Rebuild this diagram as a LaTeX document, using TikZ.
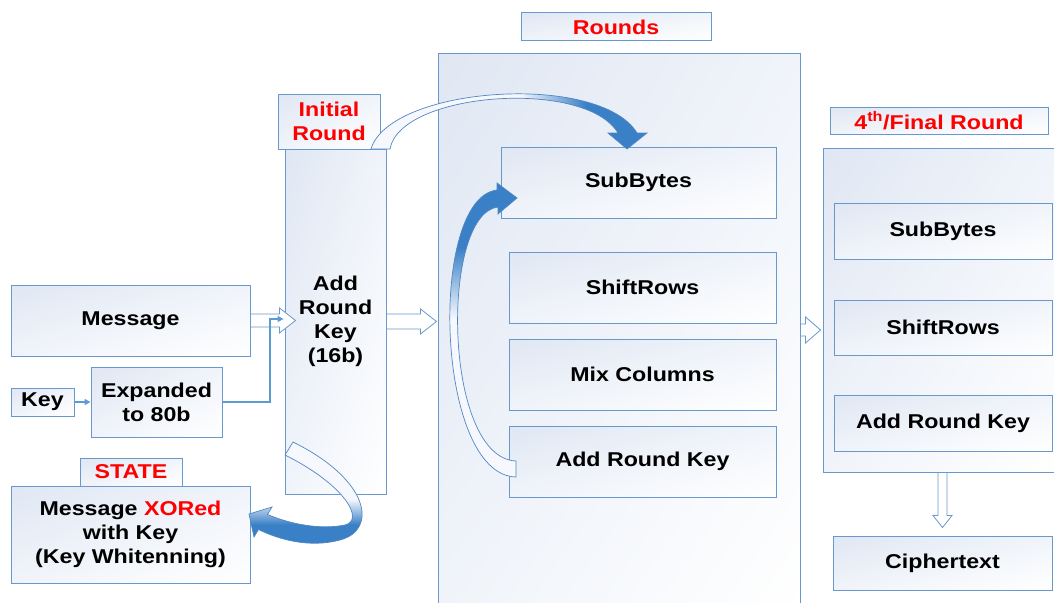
\documentclass[tikz,border=0pt]{standalone}
\usepackage{fontspec}
\setmainfont{Liberation Sans}[FakeStretch=1.16]
\usetikzlibrary{calc,arrows.meta,shadings}
\definecolor{boxborder}{RGB}{105,152,204}
\definecolor{boxtl}{RGB}{224,231,243}
\definecolor{boxmid}{RGB}{240,244,250}
\definecolor{arrlight}{RGB}{246,248,253}
\definecolor{arrblue}{RGB}{58,128,198}
\definecolor{arroutline}{RGB}{80,135,195}
\definecolor{connblue}{RGB}{91,155,213}
\definecolor{txtred}{RGB}{255,0,0}
\pgfdeclareverticalshading{curvshade}{100bp}{color(0bp)=(arrlight); color(52bp)=(arrlight); color(64bp)=(arrblue); color(100bp)=(arrblue)}
\begin{document}
\begin{tikzpicture}[x=1pt,y=-1pt,
  box/.style={draw=boxborder, line width=1pt, upper left=boxtl, upper right=boxmid, lower left=boxmid, lower right=white, align=center, inner sep=0pt, font=\bfseries\fontsize{20}{24}\selectfont},
  lbl/.style={box, text=txtred},
  blockarrow/.style={draw=boxborder, line width=0.8pt, fill=white},
  curved/.style={draw=arroutline, line width=0.7pt, shading=curvshade},
  conn/.style={draw=connblue, line width=1.2pt},
  smalltip/.style={-{Triangle[length=6pt,width=6pt]}}
]
\fill[white] (0,0) rectangle (1054,602);
\useasboundingbox (0,0) rectangle (1054,602);

% containers and labels
\node[lbl, minimum width=190pt, minimum height=28pt] (roundsLbl) at (616,27) {Rounds};
\node[box, minimum width=362pt, minimum height=558pt] (roundsBox) at (619,333) {};
\node[lbl, minimum width=218pt, minimum height=27pt] (finalLbl) at (939,120.5) {4\textsuperscript{th}/Final Round};
\node[box, minimum width=237pt, minimum height=324pt] (finalBox) at (941.5,310) {};
\node[lbl, minimum width=102pt, minimum height=55pt] (initLbl) at (329,121.5) {Initial\\Round};
\node[box, minimum width=101pt, minimum height=345pt] (arkCol) at (335.5,321.5) {Add\\Round\\Key\\(16b)};

% left side
\node[box, minimum width=239pt, minimum height=71pt] (msg) at (130.5,320.5) {Message};
\node[box, minimum width=63pt, minimum height=28pt] (key) at (42.5,402) {Key};
\node[box, minimum width=131pt, minimum height=70pt] (exp) at (156.5,402) {Expanded\\to 80b};
\node[lbl, minimum width=102pt, minimum height=28pt] (stateLbl) at (131,472) {STATE};
\node[box, minimum width=239pt, minimum height=97pt] (state) at (130.5,534.5) {Message \textcolor{txtred}{XORed}\\with Key\\(Key Whitenning)};

% rounds
\node[box, minimum width=275pt, minimum height=71pt] (sub1) at (638.5,182.5) {SubBytes};
\node[box, minimum width=267pt, minimum height=71pt] (shift1) at (642.5,287.5) {ShiftRows};
\node[box, minimum width=267pt, minimum height=71pt] (mix1) at (642.5,374.5) {Mix Columns};
\node[box, minimum width=267pt, minimum height=71pt] (ark1) at (642.5,461.5) {Add Round Key};

% final round
\node[box, minimum width=218pt, minimum height=56pt] (sub2) at (943,231) {SubBytes};
\node[box, minimum width=218pt, minimum height=55pt] (shift2) at (943,327.5) {ShiftRows};
\node[box, minimum width=218pt, minimum height=56pt] (ark2) at (943,423) {Add Round Key};
\node[box, minimum width=219pt, minimum height=54pt] (ciph) at (942.5,563) {Ciphertext};

% block arrows
\draw[blockarrow] ($(msg.east)+(0,-6.5)$) -- ++(29,0) -- ++(0,-6) -- ++(16,12.5) -- ++(-16,12.5) -- ++(0,-6) -- ++(-29,0) -- cycle;
\draw[blockarrow] ($(arkCol.east)+(0,-7.5)$) -- ++(34,0) -- ++(0,-5) -- ++(16,12.5) -- ++(-16,12.5) -- ++(0,-5) -- ++(-34,0) -- cycle;
\draw[blockarrow] ($(roundsBox.east)+(0,-9)$) -- ++(5,0) -- ++(0,-7) -- ++(15,13) -- ++(-15,13) -- ++(0,-7) -- ++(-5,0) -- cycle;
\draw[blockarrow] ($(finalBox.south)+(-3.5,0)$) -- ++(0,43) -- ++(-5,0) -- ++(9.5,12) -- ++(9.5,-12) -- ++(-5,0) -- ++(0,-43) -- cycle;

% thin connectors
\coordinate (bend) at (270,319);
\draw[conn, smalltip] (key.east) -- (exp.west);
\draw[conn, smalltip] (exp.east) -| (bend) -- ($(arkCol.west)+(-1,-2.5)$);

% curved arrows
\shade[curved, shading angle=-90] (371,149) .. controls (390,86) and (600,72) .. (637,133) -- (647,133) -- (627,149) -- (608,133) -- (618,133) .. controls (585,78) and (400,92) .. (390,149) -- cycle;
\shade[curved, shading angle=0] (516,477) .. controls (435,475) and (428,198) .. (497,190) -- (497,183) -- (517,198) -- (498,214) -- (498,207) .. controls (440,214) and (443,458) .. (516,461) -- cycle;
\shade[curved, shading angle=180] (293,442) .. controls (370,480) and (378,530) .. (340,540) .. controls (310,548) and (280,540) .. (258.5,529.5) -- (254,537) -- (249,514) -- (272,507) -- (267.5,514.5) .. controls (290,524) and (320,530) .. (345,525) .. controls (365,520) and (345,485) .. (285,455) -- cycle;
\end{tikzpicture}
\end{document}
